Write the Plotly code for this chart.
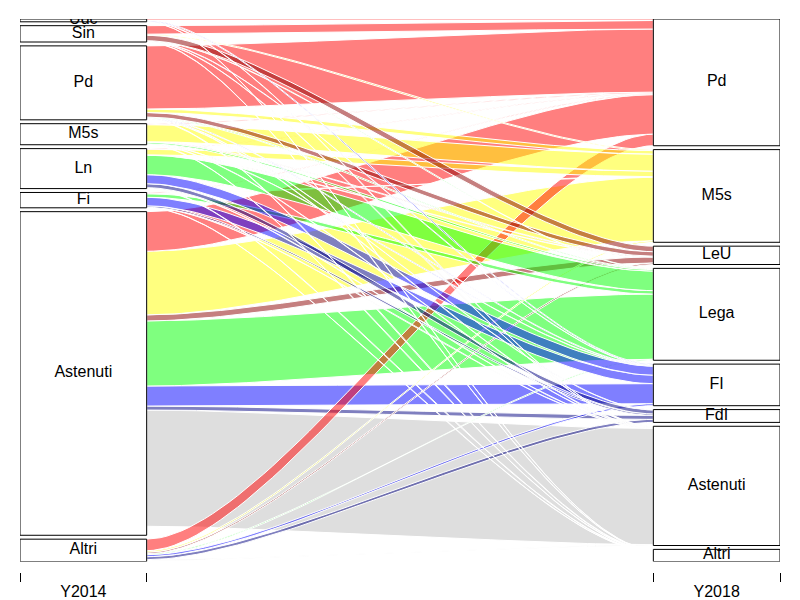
import numpy as np
import plotly.graph_objects as go

# ---------------- data ----------------
# factor levels (alphabetical, first level drawn at the bottom)
levels_2014 = ["Altri", "Astenuti", "Fi", "Ln", "M5s", "Pd", "Sin", "Udc"]
levels_2018 = ["Altri", "Astenuti", "FdI", "FI", "Lega", "LeU", "M5s", "Pd"]

sources_2014 = ["Udc", "Sin", "Pd", "M5s", "Ln", "Fi", "Astenuti", "Altri"]
targets_2018 = ["Pd", "M5s", "LeU", "Lega", "FI", "FdI", "Astenuti", "Altri"]

# flows from each 2014 choice to the 2018 choices (same order as targets_2018)
from_udc = [1.5, 0.0, 0.0, 0.0, 0.8, 0.0, 0.3, 0.2]
from_sin = [8.5, 1.0, 5.5, 0.4, 0.3, 0.0, 0.3, 0.3]
from_pd = [63.0, 3.5, 4.5, 0.8, 0.6, 0.3, 0.5, 0.6]
from_m5s = [1.0, 17.0, 0.5, 1.5, 0.3, 0.0, 0.4, 0.3]
from_ln = [0.7, 5.5, 0.3, 19.5, 9.0, 4.0, 0.4, 0.5]
from_fi = [0.8, 0.5, 0.0, 3.5, 8.5, 1.5, 0.3, 0.2]
from_astenuti = [39.5, 63.5, 6.0, 65.0, 20.0, 4.0, 116.0, 9.0]
from_altri = [11.5, 1.5, 1.5, 1.0, 2.0, 3.0, 0.8, 1.0]

colors_2018 = {
    "Pd": (255, 0, 0), "M5s": (255, 255, 0), "LeU": (139, 0, 0),
    "Lega": (0, 255, 0), "FI": (0, 0, 255), "FdI": (0, 0, 128),
    "Astenuti": (190, 190, 190), "Altri": (255, 255, 255),
}
axis_names = ["Y2014", "Y2018"]

# -------------- layout constants (alluvial defaults) --------------
gap_width = 0.05
cw = 0.1
xw = 0.1
alpha = 0.5

all_from = [from_udc, from_sin, from_pd, from_m5s, from_ln, from_fi,
            from_astenuti, from_altri]
rows = []
for src, vals in zip(sources_2014, all_from):
    for dst, v in zip(targets_2018, vals):
        if v > 0:
            rows.append((src, dst, v))

freq = np.array([r[2] for r in rows], dtype=float)
freq = freq / freq.sum()
codes = [
    [levels_2014.index(r[0]) for r in rows],
    [levels_2018.index(r[1]) for r in rows],
]


def getp(i):
    other = 1 - i
    n = len(rows)
    o = sorted(range(n), key=lambda k: (codes[i][k], codes[other][k]))
    brk = np.concatenate([[0], np.cumsum(freq[o])]) * (1 - gap_width)
    seg = np.column_stack([brk[:-1], brk[1:]])
    c = np.array([codes[i][k] for k in o])
    gap = np.cumsum(np.concatenate([[0], (np.diff(c) != 0).astype(int)]))
    mx = gap.max() if gap.max() > 0 else 1
    seg = seg + (gap / mx * gap_width)[:, None]
    out = np.zeros_like(seg)
    for pos, k in enumerate(o):
        out[k] = seg[pos]
    return out


dd = [getp(0), getp(1)]

fig = go.Figure()


def curve(x0, y0, x1, y1, a, n=60):
    t = np.linspace(0, 1, n)
    px = [x0, x0 + a, x1 - a, x1]
    py = [y0, y0, y1, y1]
    bx = ((1 - t) ** 3) * px[0] + 3 * ((1 - t) ** 2) * t * px[1] + 3 * (1 - t) * t ** 2 * px[2] + t ** 3 * px[3]
    by = ((1 - t) ** 3) * py[0] + 3 * ((1 - t) ** 2) * t * py[1] + 3 * (1 - t) * t ** 2 * py[2] + t ** 3 * py[3]
    return bx, by


# drawing order: rows with layer TRUE (Astenuti) first, then others, reversed
layer = [1 if r[0] == "Astenuti" else 0 for r in rows]
order_layer = sorted(range(len(rows)), key=lambda k: layer[k])
ind = list(reversed(order_layer))

x0 = 1 + cw
x1 = 2 - cw
a = 2 * xw
for k in ind:
    src, dst, _ = rows[k]
    lb, lt = dd[0][k]
    rb, rt = dd[1][k]
    tx, ty = curve(x0, lt, x1, rt, a)
    bx, by = curve(x0, lb, x1, rb, a)
    xs = np.concatenate([tx, bx[::-1], [tx[0]]])
    ys = np.concatenate([ty, by[::-1], [ty[0]]])
    r, g, b = colors_2018[dst]
    fig.add_trace(go.Scatter(
        x=xs, y=ys, mode="lines", fill="toself",
        fillcolor=f"rgba({r},{g},{b},{alpha})",
        line=dict(color="white", width=1),
        hoverinfo="text", text=f"{src} → {dst}", showlegend=False,
    ))

# category blocks and labels
bx_all, by_all = [], []
lab_x, lab_y, lab_t = [], [], []
for j, (lvls, dim_codes) in enumerate([(levels_2014, codes[0]), (levels_2018, codes[1])]):
    for li, name in enumerate(lvls):
        idx = [k for k in range(len(rows)) if dim_codes[k] == li]
        if not idx:
            continue
        lo = min(dd[j][k][0] for k in idx)
        hi = max(dd[j][k][1] for k in idx)
        xc = j + 1
        bx_all += [xc - cw, xc + cw, xc + cw, xc - cw, xc - cw, None]
        by_all += [lo, lo, hi, hi, lo, None]
        lab_x.append(xc)
        lab_y.append((lo + hi) / 2)
        lab_t.append(name)

fig.add_trace(go.Scatter(x=bx_all, y=by_all, mode="lines",
                         line=dict(color="black", width=1),
                         hoverinfo="skip", showlegend=False))
fig.add_trace(go.Scatter(x=lab_x, y=lab_y, mode="text", text=lab_t,
                         textfont=dict(family="Liberation Sans, Arial", size=16, color="black"),
                         cliponaxis=True, hoverinfo="skip", showlegend=False))

# invisible trace to activate the tick axis
fig.add_trace(go.Scatter(x=[1, 2], y=[0.5, 0.5], xaxis="x2", mode="markers",
                         marker=dict(opacity=0), hoverinfo="skip", showlegend=False))

W, H = 800, 600
plot_top = 19
plot_bottom_px = 561.5
tick_axis_px = 572
margin_b = H - tick_axis_px
dom0 = (tick_axis_px - plot_bottom_px) / (H - plot_top - margin_b)

fig.update_layout(
    width=W, height=H,
    margin=dict(l=20, r=20, t=plot_top, b=margin_b, autoexpand=False),
    paper_bgcolor="white", plot_bgcolor="white",
    xaxis=dict(range=[1 - cw, 2 + cw], showgrid=False, zeroline=False,
               showticklabels=False, ticks="", showline=False, fixedrange=True,
               automargin=False),
    yaxis=dict(range=[0, 1], domain=[dom0, 1], showgrid=False, zeroline=False,
               showticklabels=False, ticks="", showline=False, fixedrange=True,
               automargin=False),
    xaxis2=dict(range=[1 - cw, 2 + cw], overlaying="x", anchor="free", position=0,
                side="bottom", showgrid=False, zeroline=False, showline=False,
                tickvals=[1, 2], ticktext=axis_names, ticks="",
                ticklabelstandoff=8, automargin=False,
                tickfont=dict(family="Liberation Sans, Arial", size=16, color="black"),
                minor=dict(tickvals=[1 - cw, 1 + cw, 2 - cw, 2 + cw], ticks="outside",
                           ticklen=9, tickcolor="black", tickwidth=1, showgrid=False),
                fixedrange=True),
    font=dict(family="Liberation Sans, Arial", size=16, color="black"),
)

# remove the default page margin so the 800x600 figure fills the window
fig.write_html(
    "out.html",
    config={"displayModeBar": False},
    post_script="document.body.style.margin='0px';document.body.style.overflow='hidden';",
)
